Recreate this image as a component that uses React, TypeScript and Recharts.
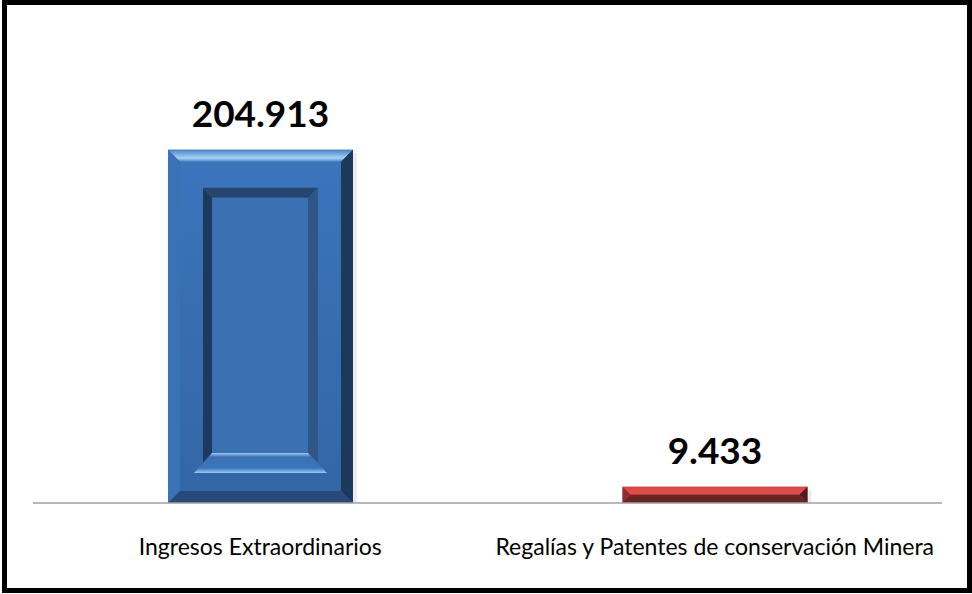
import { BarChart, Bar, XAxis, YAxis, LabelList } from 'recharts';

const categories = ['Ingresos Extraordinarios', 'Regalías y Patentes de conservación Minera'];
const values = [204913, 9433];
const tones = ['blue', 'red'];

const palettes: Record<string, any> = {
  blue: {
    face: '#3b75bc',
    faceLow: '#3366a6',
    topA: '#4a82c4',
    topB: '#a6d2f8',
    left: '#3a72b6',
    right: '#1c385a',
    bottom: '#29497a',
    recTop: '#26466f',
    recLeft: '#1d3a5e',
    recRight: '#2f5687',
    recLight: '#9ccaf6',
    panel: '#3a71b3',
  },
  red: {
    face: '#d94242',
    faceLow: '#d03c3c',
    topA: '#d84444',
    topB: '#e05050',
    left: '#8e2e2e',
    right: '#4e1a1a',
    bottom: '#6a2424',
  },
};

const data = categories.map((name, i) => ({ name, value: values[i], tone: tones[i] }));

const fmt = (v: number) => new Intl.NumberFormat('de-DE').format(v);

const pts = (list: number[][]) => list.map((p) => p.join(',')).join(' ');

function BevelBar(props: any) {
  const { x, y, width: w, height: h, payload } = props;
  if (!h || h <= 0) return null;
  const c = palettes[payload.tone];
  const id = 'bv-' + payload.tone;
  const b = Math.min(12, h / 2);
  const x2 = x + w;
  const y2 = y + h;
  const deep = h > 120;

  // inner recess: r1 = outer edge, r2 = sunken panel
  const r1 = { l: x + 35, r: x2 - 35, t: y + 38, b: y2 - 30 };
  const r2 = { l: x + 44, r: x2 - 45, t: y + 48, b: y2 - 50 };
  const fan = 9;
  const wallL = r2.b + ((r2.l - r1.l) / (r2.l - r1.l + fan)) * (r1.b - r2.b);

  return (
    <g>
      <defs>
        <linearGradient id={id + '-top'} x1="0" y1="0" x2="0" y2="1">
          <stop offset="0%" stopColor={c.topA} />
          <stop offset="70%" stopColor={c.topB} />
          <stop offset="100%" stopColor={c.topA} />
        </linearGradient>
        <linearGradient id={id + '-face'} x1="0" y1="0" x2="0" y2="1">
          <stop offset="0%" stopColor={c.face} />
          <stop offset="100%" stopColor={c.faceLow} />
        </linearGradient>
        {deep && (
          <linearGradient id={id + '-recb'} x1="0" y1="0" x2="0" y2="1">
            <stop offset="0%" stopColor={c.recLight} />
            <stop offset="20%" stopColor={c.panel} />
            <stop offset="75%" stopColor={c.face} />
            <stop offset="100%" stopColor={c.recLight} />
          </linearGradient>
        )}
      </defs>
      <rect x={x + 4} y={y + 3} width={w} height={h - 3} fill="#000" opacity={0.08} />
      <rect x={x} y={y} width={w} height={h} fill={`url(#${id}-face)`} />
      <polygon points={pts([[x, y], [x2, y], [x2 - b, y + b], [x + b, y + b]])} fill={`url(#${id}-top)`} />
      <polygon points={pts([[x, y], [x + b, y + b], [x + b, y2 - b], [x, y2]])} fill={c.left} />
      <polygon points={pts([[x2, y], [x2, y2], [x2 - b, y2 - b], [x2 - b, y + b]])} fill={c.right} />
      <polygon points={pts([[x, y2], [x + b, y2 - b], [x2 - b, y2 - b], [x2, y2]])} fill={c.bottom} />
      {deep && (
        <g>
          <polygon points={pts([[r1.l, r1.t], [r1.r, r1.t], [r2.r, r2.t], [r2.l, r2.t]])} fill={c.recTop} />
          <polygon points={pts([[r1.l, r1.t], [r2.l, r2.t], [r2.l, r2.b], [r1.l, wallL]])} fill={c.recLeft} />
          <polygon points={pts([[r1.r, r1.t], [r1.r, wallL], [r2.r, r2.b], [r2.r, r2.t]])} fill={c.recRight} />
          <polygon
            points={pts([[r2.l, r2.b], [r2.r, r2.b], [r1.r + fan, r1.b], [r1.l - fan, r1.b]])}
            fill={`url(#${id}-recb)`}
          />
          <rect x={r2.l} y={r2.t} width={r2.r - r2.l} height={r2.b - r2.t} fill={c.panel} />
        </g>
      )}
    </g>
  );
}

function ValueLabel(props: any) {
  const { x, y, width, value } = props;
  return (
    <text
      x={x + width / 2}
      y={y - 23}
      textAnchor="middle"
      fontFamily="Lato, 'Open Sans', sans-serif"
      fontWeight={700}
      fontSize={37}
      fill="#000"
    >
      {fmt(value)}
    </text>
  );
}

function CategoryTick(props: any) {
  const { x, y, payload } = props;
  return (
    <text x={x} y={y + 44} textAnchor="middle" fontFamily="Lato, 'Open Sans', sans-serif" fontSize={23} fill="#000">
      {payload.value}
    </text>
  );
}

export default function App() {
  return (
    <div style={{ position: 'fixed', left: 0, top: 0, width: 972, height: 594, background: '#fff' }}>
      <BarChart
        width={972}
        height={594}
        data={data}
        margin={{ top: 72, right: 30, bottom: 31, left: 33 }}
        barCategoryGap="29.7%"
      >
        <XAxis
          dataKey="name"
          height={60}
          tickLine={false}
          axisLine={{ stroke: '#a0a0a0', strokeWidth: 1.5 }}
          tick={<CategoryTick />}
          interval={0}
        />
        <YAxis hide domain={[0, 250000]} />
        <Bar dataKey="value" shape={<BevelBar />} isAnimationActive={false}>
          <LabelList dataKey="value" content={<ValueLabel />} />
        </Bar>
      </BarChart>
      <div
        style={{
          position: 'absolute',
          left: 2,
          top: 0,
          width: 970,
          height: 593,
          border: '5px solid #000',
          boxSizing: 'border-box',
          pointerEvents: 'none',
        }}
      />
    </div>
  );
}
